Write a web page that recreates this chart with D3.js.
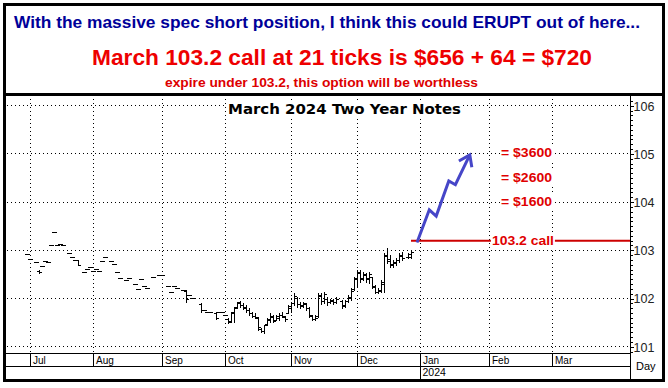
<!DOCTYPE html>
<html><head><meta charset="utf-8">
<script src="https://cdn.jsdelivr.net/npm/d3@7"></script>
<style>html,body{margin:0;padding:0;background:#fff;} svg{display:block;}</style>
</head><body>
<svg id="c" width="668" height="388"></svg>
<script>
// ---------- text ----------
const headline = "With the massive spec short position, I think this could ERUPT out of here...";
const offerLine = "March 103.2 call at 21 ticks is $656 + 64 = $720";
const riskLine = "expire under 103.2, this option will be worthless";
const chartTitle = "March 2024 Two Year Notes";
const monthLabels = ["Jul","Aug","Sep","Oct","Nov","Dec","Jan","Feb","Mar"];
const yearLabel = "2024";
const periodLabel = "Day";
const priceTicks = [101,102,103,104,105,106];

// ---------- annotations (data space: weekday index from 2023-07-03, price) ----------
const callStrike = 103.2;
const callLabel = "103.2 call";
const callStartDay = 127;
const targetPrices = [105, 104.5, 104];
const targetLabels = ["= $3600","= $2600","= $1600"];
const arrowDays   = [129, 133.1, 135.4, 139.6, 141.8, 146.6];
const arrowPrices = [103.16, 103.84, 103.71, 104.44, 104.36, 104.98];

// ---------- price bars: [day, open, high, low, close] or [day, price] ----------
const julBars = [[-1,102.92],[0,102.81],[2,102.76],[3,102.58,102.59,102.53,102.54],[4,102.67],[5,102.78],
  [6,102.75],[7,103.11],[8,103.38],[9,103.11],[10,103.14],[11,103.11],[13,102.94],[14,102.87],[15,102.80],
  [16,102.80,102.80,102.70,102.70],[18,102.55],[19,102.61],[20,102.65]];
const augBars = [[21,102.57],[22,102.61],[23,102.58],[24,102.78],[25,102.86],[27,102.78],[28,102.72],
  [29,102.56],[30,102.42],[32,102.39],[33,102.42],[35,102.30],[36,102.20],[37,102.40],[38,102.25],
  [39,102.21],[41,102.45],[43,102.48]];
const sepBars = [[44,102.49],[46,102.26],[47,102.14],[48,102.26],[49,102.22],[51,102.18],
  [52,102.16,102.18,101.93,101.98],[53,102.07],[54,102.01],[57,101.88,101.90,101.73,101.76],[58,101.76],
  [59,101.73],[60,101.71],[62,101.70,101.72,101.58,101.60],[63,101.71],[64,101.73]];
const octBars = [[65,101.66],[66,101.58,101.59,101.49,101.52],[67,101.54,101.73,101.52,101.72],
  [68,101.70,101.83,101.52,101.80],[69,101.82,101.93,101.80,101.90],[70,101.92,101.95,101.83,101.86],
  [71,101.86,101.90,101.78,101.80],[72,101.82,101.87,101.73,101.76],[73,101.76,101.80,101.66,101.70],
  [74,101.70,101.73,101.62,101.64],[75,101.64,101.69,101.59,101.62],[76,101.60,101.62,101.35,101.40],
  [77,101.36,101.38,101.31,101.33],[78,101.32,101.45,101.28,101.44],[79,101.47,101.59,101.45,101.57],
  [80,101.56,101.69,101.52,101.64],[81,101.62,101.66,101.51,101.54],[82,101.56,101.66,101.55,101.64],
  [83,101.60,101.69,101.55,101.66],[84,101.66,101.71,101.61,101.63],[85,101.62,101.64,101.54,101.58],
  [86,101.70,101.87,101.69,101.84]];
const novBars = [[87,101.80,101.93,101.73,101.90],[88,101.90,102.11,101.87,102.06],[89,102.02,102.04,101.83,101.88],
  [90,101.88,101.93,101.80,101.84],[91,101.86,101.93,101.83,101.90],[92,101.88,101.90,101.76,101.80],
  [93,101.80,101.83,101.62,101.66],[94,101.64,101.66,101.55,101.58],[95,101.58,101.65,101.55,101.60],
  [96,101.64,102.12,101.62,102.08],[97,102.06,102.12,101.89,101.94],[98,101.94,102.14,101.90,102.10],
  [99,102.00,102.04,101.87,101.92],[100,101.92,102.00,101.90,101.96],[101,101.94,102.00,101.89,101.92],
  [102,101.92,102.04,101.90,102.00],[104,101.94,101.97,101.80,101.84],[105,101.86,101.97,101.82,101.94],
  [106,101.94,102.07,101.93,102.04],[107,102.02,102.21,101.97,102.16],[108,102.20,102.45,102.18,102.42]];
const decBars = [[109,102.40,102.59,102.24,102.54],[110,102.52,102.59,102.35,102.40],[111,102.42,102.56,102.38,102.50],
  [112,102.48,102.52,102.35,102.40],[113,102.42,102.54,102.32,102.50],[114,102.44,102.45,102.21,102.26],
  [115,102.24,102.28,102.11,102.14],[116,102.14,102.21,102.11,102.18],[117,102.16,102.38,102.14,102.34],
  [118,102.30,102.94,102.14,102.88],[119,102.90,103.04,102.73,102.78],[120,102.82,102.90,102.66,102.70],
  [121,102.72,102.80,102.66,102.76],[122,102.74,102.83,102.69,102.80],[123,102.80,102.94,102.76,102.90],
  [124,102.88,102.97,102.80,102.84],[126,102.86,102.94,102.83,102.92],[127,102.86,102.99,102.83,102.96]];

// ---------- build ----------
const W = 668, H = 388;
const svg = d3.select("#c");
svg.append("rect").attr("width", W).attr("height", H).attr("fill", "#fff");

const origin = new Date(2023, 6, 3);
const isWeekday = d => d.getDay() !== 0 && d.getDay() !== 6;
const dayIndex = d => d3.timeDay.range(origin, d).filter(isWeekday).length;
const monthStarts = d3.timeMonth.range(new Date(2023, 6, 1), new Date(2024, 2, 2)).map(m => {
  let d = m; while (!isWeekday(d)) d = d3.timeDay.offset(d, 1); return dayIndex(d);
});

const plotL = 6, plotR = 630, plotT = 96, axisY = 353, rowY = 366, bottomY = 379;
const x = d3.scaleLinear().domain([0, 174]).range([30, 552]);
const y = d3.scaleLinear().domain([101, 106]).range([346.7, 105.7]);
const FONT = "'Liberation Sans', Arial, sans-serif";

// grid
const grid = svg.append("g").attr("stroke", "#000").attr("stroke-dasharray", "1,3").attr("shape-rendering", "crispEdges");
grid.selectAll("line.h").data(priceTicks).join("line")
  .attr("x1", plotL + 1).attr("x2", plotR).attr("y1", d => Math.floor(y(d)) + 0.5).attr("y2", d => Math.floor(y(d)) + 0.5);
grid.selectAll("line.v").data(monthStarts).join("line")
  .attr("y1", plotT + 3).attr("y2", axisY).attr("x1", d => Math.round(x(d)) + 0.5).attr("x2", d => Math.round(x(d)) + 0.5);

// label helper with white background
function boxed(parent, t, opts) {
  const g = parent.append("g");
  const txt = g.append("text").text(t).attr("x", opts.x).attr("y", opts.y)
    .attr("font-family", opts.family || FONT).attr("font-weight", "bold").attr("font-size", opts.size)
    .attr("fill", opts.fill).attr("text-anchor", opts.anchor || "start");
  if (opts.len) txt.attr("textLength", opts.len).attr("lengthAdjust", "spacingAndGlyphs");
  const bb = txt.node().getBBox();
  g.insert("rect", "text").attr("x", bb.x - 1).attr("y", bb.y).attr("width", bb.width + 2).attr("height", bb.height).attr("fill", "#fff");
  return g;
}

// chart title
boxed(svg, chartTitle, {x: 228, y: 114, size: 14.5, fill: "#000", family: "'DejaVu Sans', Verdana, sans-serif", len: 233});

// bars
const bars = [...julBars, ...augBars, ...sepBars, ...octBars, ...novBars, ...decBars].map(b =>
  b.length === 2 ? {day: b[0], o: b[1], h: b[1], l: b[1], c: b[1]} : {day: b[0], o: b[1], h: b[2], l: b[3], c: b[4]});
svg.append("g").attr("stroke", "#000").attr("stroke-width", 1).attr("shape-rendering", "crispEdges")
  .selectAll("path").data(bars).join("path")
  .attr("fill", "none")
  .attr("d", b => {
    const xi = Math.round(x(b.day));
    const yh = Math.round(y(b.h)), yl = Math.round(y(b.l));
    const yo = Math.round(y(b.o)) + 0.5, yc = Math.round(y(b.c)) + 0.5;
    let p = `M${xi - 2},${yo}H${xi + 1}M${xi},${yc}H${xi + 3}`;
    if (yl > yh) p += `M${xi + 0.5},${yh}V${yl + 1}`;
    return p;
  });

// call strike line
svg.append("line").attr("x1", x(callStartDay)).attr("x2", plotR).attr("y1", y(callStrike)).attr("y2", y(callStrike))
  .attr("stroke", "#cc0000").attr("stroke-width", 2);
boxed(svg, callLabel, {x: x(164.3), y: y(callStrike) + 4.5, size: 13.5, fill: "#e00000", anchor: "middle", len: 62});

// target labels
targetPrices.forEach((p, i) => {
  boxed(svg, targetLabels[i], {x: x(165.5), y: y(p) + 3.5, size: 12.5, fill: "#e00000", anchor: "middle", len: 51});
});

// arrow
const arrowPts = arrowDays.map((d, i) => [x(d), y(arrowPrices[i])]);
const arrowColor = "#4646c8";
svg.append("path").attr("d", d3.line()(arrowPts)).attr("fill", "none").attr("stroke", arrowColor)
  .attr("stroke-width", 3).attr("stroke-linejoin", "miter");
{
  const [x1, y1] = arrowPts[arrowPts.length - 2], [x2, y2] = arrowPts[arrowPts.length - 1];
  const ang = Math.atan2(y1 - y2, x1 - x2), L = 12.5, a = 35 * Math.PI / 180;
  const w1 = [x2 + L * Math.cos(ang + a), y2 + L * Math.sin(ang + a)];
  const w2 = [x2 + L * Math.cos(ang - a), y2 + L * Math.sin(ang - a)];
  svg.append("path").attr("d", d3.line()([w1, [x2, y2], w2])).attr("fill", "none")
    .attr("stroke", arrowColor).attr("stroke-width", 3).attr("stroke-linejoin", "miter");
}

// y axis (right)
const minorTicks = d3.range(1009, 1062).map(v => v / 10);
const yMinor = svg.append("g").attr("transform", `translate(${plotR},0)`)
  .call(d3.axisRight(y).tickValues(minorTicks).tickSize(3).tickFormat(""));
yMinor.select(".domain").remove();
yMinor.selectAll("line").attr("shape-rendering", "crispEdges");
const yMajor = svg.append("g").attr("transform", `translate(${plotR},0)`)
  .call(d3.axisRight(y).tickValues(priceTicks).tickSize(4).tickPadding(-0.5).tickFormat(d3.format("d")));
yMajor.select(".domain").remove();
yMajor.selectAll("line").attr("shape-rendering", "crispEdges");
yMajor.selectAll("text").attr("font-family", FONT).attr("font-size", 12.5).attr("fill", "#222").attr("dy", "0.35em");

// x axis rows
const xAxis = svg.append("g").attr("transform", `translate(0,${axisY})`)
  .call(d3.axisBottom(x).tickValues(monthStarts).tickSize(rowY - axisY).tickFormat((d, i) => monthLabels[i]));
xAxis.select(".domain").remove();
xAxis.selectAll("line").attr("shape-rendering", "crispEdges").attr("stroke", "#000");
xAxis.selectAll("text").attr("text-anchor", "start").attr("x", 2.5).attr("y", 10.5).attr("dy", 0)
  .attr("font-family", FONT).attr("font-size", 10).attr("fill", "#000");

const lines = svg.append("g").attr("stroke", "#000").attr("shape-rendering", "crispEdges");
lines.append("line").attr("x1", plotL).attr("x2", plotR + 0.5).attr("y1", axisY + 0.5).attr("y2", axisY + 0.5);
lines.append("line").attr("x1", plotL).attr("x2", plotR + 0.5).attr("y1", rowY + 0.5).attr("y2", rowY + 0.5);
lines.append("line").attr("x1", plotR + 0.5).attr("x2", plotR + 0.5).attr("y1", plotT).attr("y2", bottomY + 1);
const janIdx = monthStarts[monthLabels.indexOf("Jan")];
lines.append("line").attr("x1", Math.round(x(janIdx)) + 0.5).attr("x2", Math.round(x(janIdx)) + 0.5)
  .attr("y1", rowY).attr("y2", bottomY + 1);
svg.append("text").text(yearLabel).attr("x", Math.round(x(janIdx)) + 2.5).attr("y", 376)
  .attr("font-family", FONT).attr("font-size", 10.5).attr("fill", "#000");
svg.append("text").text(periodLabel).attr("x", 636).attr("y", 370)
  .attr("font-family", FONT).attr("font-size", 11).attr("fill", "#000");

// header text
svg.append("text").text(headline).attr("x", 14).attr("y", 28).attr("font-family", FONT).attr("font-weight", "bold")
  .attr("font-size", 17).attr("fill", "#000099").attr("textLength", 626).attr("lengthAdjust", "spacingAndGlyphs");
svg.append("text").text(offerLine).attr("x", 92).attr("y", 65).attr("font-family", FONT).attr("font-weight", "bold")
  .attr("font-size", 22).attr("fill", "#ee0000").attr("textLength", 500).attr("lengthAdjust", "spacingAndGlyphs");
svg.append("text").text(riskLine).attr("x", 165).attr("y", 87).attr("font-family", FONT).attr("font-weight", "bold")
  .attr("font-size", 13.5).attr("fill", "#dd0000").attr("textLength", 313).attr("lengthAdjust", "spacingAndGlyphs");

// frame
svg.append("rect").attr("x", 4.5).attr("y", 4.5).attr("width", 659).attr("height", 376)
  .attr("fill", "none").attr("stroke", "#000").attr("stroke-width", 3);
svg.append("line").attr("x1", 4).attr("x2", 664).attr("y1", 94.5).attr("y2", 94.5).attr("stroke", "#000").attr("stroke-width", 3);
</script>
</body></html>
